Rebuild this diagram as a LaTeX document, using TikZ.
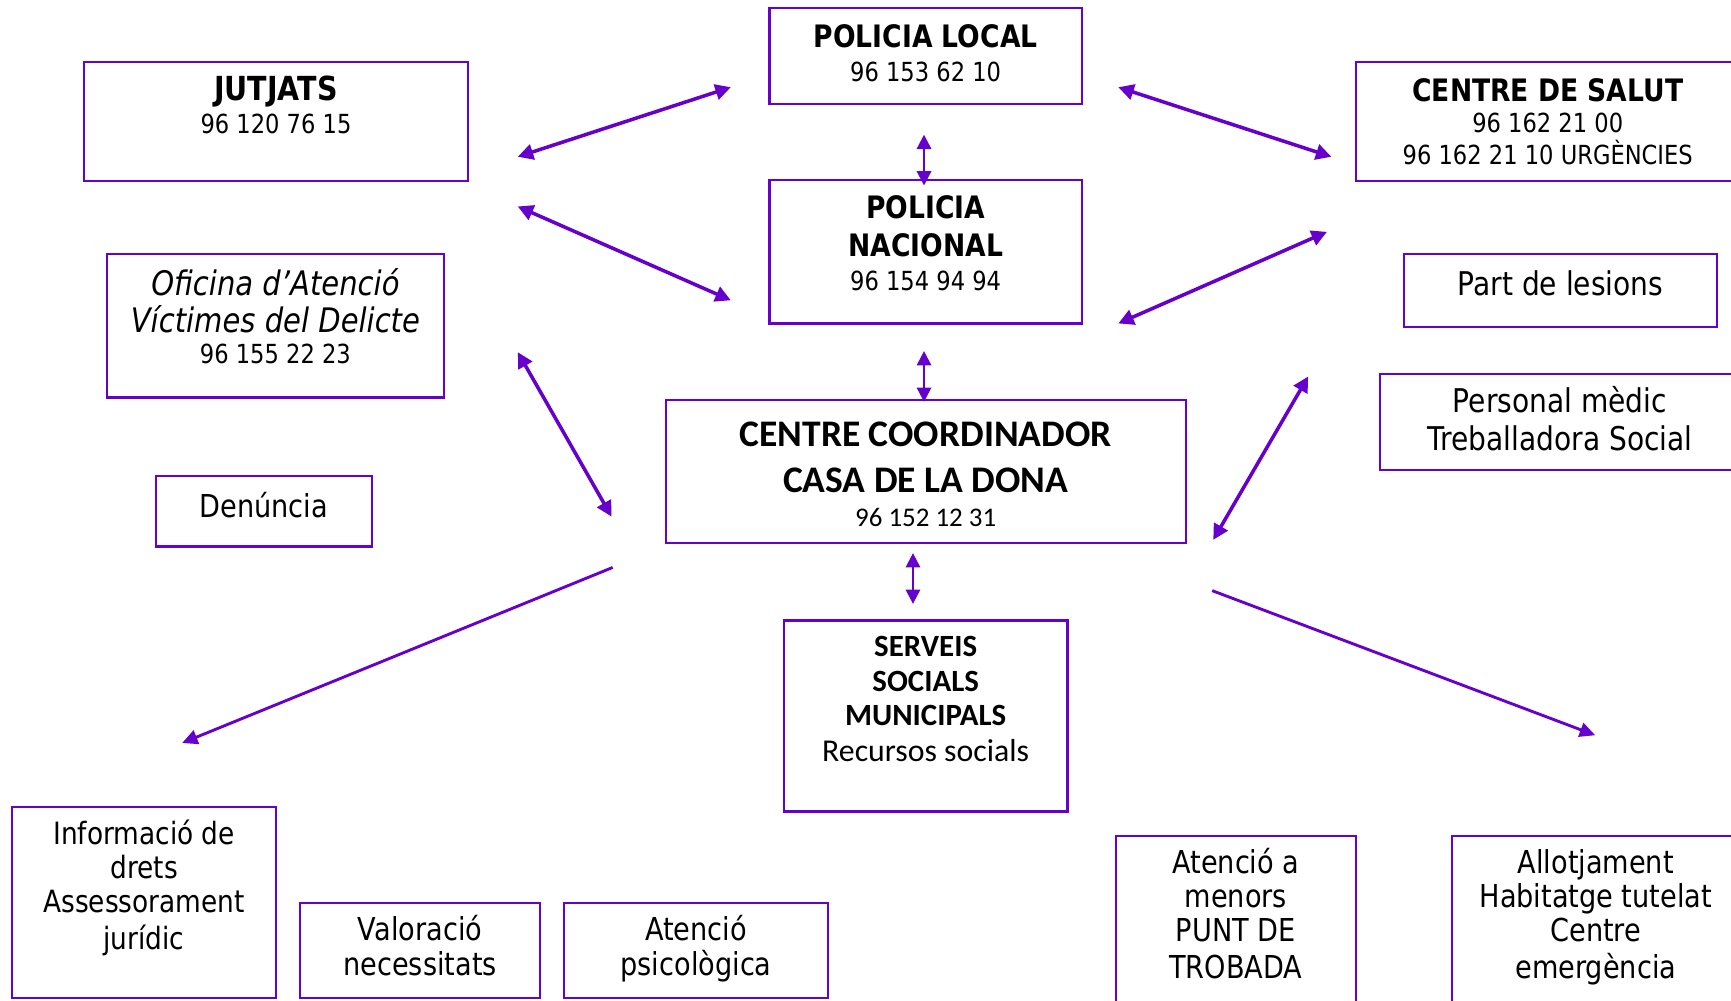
\documentclass[tikz,border=0pt]{standalone}
\usepackage{fontspec}
\setmainfont{DejaVu Sans}[FakeStretch=0.86]
\newfontfamily\carl{Carlito}
\usetikzlibrary{arrows.meta}
\definecolor{vio}{RGB}{102,0,204}
\newcommand\txl[5]{\node[txt,#1] (#2) at (#3,#4) {#5};}
\begin{document}
\begin{tikzpicture}[x=0.5pt,y=-0.5pt,
  bx/.style={draw=vio, line width=1pt, inner sep=0pt, rectangle},
  txt/.style={inner sep=0pt, anchor=base},
  ttl/.style={font=\fontsize{14}{14}\selectfont\bfseries},
  ttlj/.style={font=\fontsize{15}{15}\selectfont\bfseries},
  ph/.style={font=\fontsize{11.9}{12}\selectfont},
  lab/.style={font=\fontsize{14.3}{15}\selectfont},
  labw/.style={font=\fontsize{14.8}{15}\selectfont},
  labn/.style={font=\fontsize{13.9}{15}\selectfont},
  itl/.style={font=\fontsize{15.3}{16}\selectfont\itshape},
  cct/.style={font=\carl\fontsize{17}{18}\selectfont\bfseries},
  ccp/.style={font=\carl\fontsize{12.2}{13}\selectfont},
  sst/.style={font=\carl\fontsize{14}{15}\selectfont\bfseries},
  ssl/.style={font=\carl\fontsize{14.4}{15}\selectfont},
  dbl/.style={draw=vio, line width=1.6pt, {Triangle[length=7pt,width=7pt]}-{Triangle[length=7pt,width=7pt]}},
  vdbl/.style={draw=vio, line width=1pt, {Triangle[length=6.5pt,width=6.5pt]}-{Triangle[length=6.5pt,width=6.5pt]}},
  sgl/.style={draw=vio, line width=1.3pt, -{Triangle[length=7pt,width=6.5pt]}}
]
\useasboundingbox (0,0) rectangle (1568,906.7);
\fill[white] (0,0) rectangle (1568,906.7);
\clip (0,0) rectangle (1568,906.7);

% boxes
\node[bx, minimum width=141.5pt, minimum height=43.5pt] (pl) at (838.5,50.5) {};
\node[bx, minimum width=174pt, minimum height=54pt] (jut) at (250,110) {};
\node[bx, minimum width=174pt, minimum height=54pt] (sal) at (1402,110) {};
\node[bx, minimum width=141.5pt, minimum height=65pt] (pn) at (838.5,228) {};
\node[bx, minimum width=152.5pt, minimum height=65pt] (ofi) at (249.5,295) {};
\node[bx, minimum width=141.5pt, minimum height=33pt] (part) at (1413.5,263) {};
\node[bx, minimum width=163pt, minimum height=43.5pt] (pers) at (1413,382.5) {};
\node[bx, minimum width=98pt, minimum height=32pt] (den) at (239,463) {};
\node[bx, minimum width=235.5pt, minimum height=65pt] (cc) at (838.5,427) {};
\node[bx, minimum width=128.5pt, minimum height=86.5pt] (ser) at (838.5,648.5) {};
\node[bx, minimum width=119.5pt, minimum height=86.5pt] (inf) at (130.5,817.5) {};
\node[bx, minimum width=108.5pt, minimum height=43pt] (val) at (380.5,861) {};
\node[bx, minimum width=119.5pt, minimum height=43pt] (psi) at (630.5,861) {};
\node[bx, minimum width=108.5pt, minimum height=91.5pt] (men) at (1119.5,848.5) {};
\node[bx, minimum width=130.5pt, minimum height=91.5pt] (allo) at (1445.5,848.5) {};

% texts
\txl{ttl}{pl1}{838.5}{43}{POLICIA LOCAL}
\txl{ph}{pl2}{838.5}{74}{96 153 62 10}
\txl{ttlj}{jut1}{250}{91}{JUTJATS}
\txl{ph}{jut2}{250}{121}{96 120 76 15}
\txl{ttl}{sal1}{1402}{92}{CENTRE DE SALUT}
\txl{ph}{sal2}{1402}{120}{96 162 21 00}
\txl{ph}{sal3}{1402}{149}{96 162 21 10 URGÈNCIES}
\txl{ttl}{pn1}{838.5}{198}{POLICIA}
\txl{ttl}{pn2}{838.5}{232}{NACIONAL}
\txl{ph}{pn3}{838.5}{263}{96 154 94 94}
\txl{itl}{ofi1}{249.5}{268}{Oficina d’Atenció}
\txl{itl}{ofi2}{249.5}{301}{Víctimes del Delicte}
\txl{ph}{ofi3}{249.5}{329}{96 155 22 23}
\txl{labw}{part1}{1413.5}{268}{Part de lesions}
\txl{labw}{pers1}{1413}{374}{Personal mèdic}
\txl{labw}{pers2}{1413}{408}{Treballadora Social}
\txl{lab}{den1}{239}{469}{Denúncia}
\txl{cct}{cc1}{838.5}{404}{CENTRE COORDINADOR}
\txl{cct}{cc2}{838.5}{446}{CASA DE LA DONA}
\txl{ccp}{cc3}{838.5}{477}{96 152 12 31}
\txl{sst}{ser1}{838.5}{595}{SERVEIS}
\txl{sst}{ser2}{838.5}{626}{SOCIALS}
\txl{sst}{ser3}{838.5}{657}{MUNICIPALS}
\txl{ssl}{ser4}{838.5}{690}{Recursos socials}
\txl{labn}{inf1}{130.5}{765}{Informació de}
\txl{labn}{inf2}{130.5}{796}{drets}
\txl{labn}{inf3}{130.5}{827}{Assessorament}
\txl{labn}{inf4}{130.5}{860}{jurídic}
\txl{lab}{val1}{380.5}{852}{Valoració}
\txl{lab}{val2}{380.5}{884}{necessitats}
\txl{lab}{psi1}{630.5}{852}{Atenció}
\txl{lab}{psi2}{630.5}{884}{psicològica}
\txl{lab}{men1}{1119.5}{791}{Atenció a}
\txl{lab}{men2}{1119.5}{822}{menors}
\txl{lab}{men3}{1119.5}{853}{PUNT DE}
\txl{lab}{men4}{1119.5}{886}{TROBADA}
\txl{lab}{allo1}{1445.5}{791}{Allotjament}
\txl{lab}{allo2}{1445.5}{822}{Habitatge tutelat}
\txl{lab}{allo3}{1445.5}{853}{Centre}
\txl{lab}{allo4}{1445.5}{886}{emergència}

% arrow end points
\coordinate (a1s) at (469,142); \coordinate (a1e) at (662,79);
\coordinate (a2s) at (469,187); \coordinate (a2e) at (662,272);
\coordinate (a3s) at (1013,79); \coordinate (a3e) at (1206,142);
\coordinate (a4s) at (1013,293); \coordinate (a4e) at (1202,210);
\coordinate (v1s) at (837,122); \coordinate (v1e) at (837,168);
\coordinate (v2s) at (837,318); \coordinate (v2e) at (837,364);
\coordinate (a5s) at (469,319); \coordinate (a5e) at (554,468);
\coordinate (a6s) at (1099,489); \coordinate (a6e) at (1185,341);
\coordinate (v3s) at (827,501); \coordinate (v3e) at (827,547);
\coordinate (s1s) at (555,514); \coordinate (s1e) at (165,673);
\coordinate (s2s) at (1098,535); \coordinate (s2e) at (1445,666);

\draw[dbl] (a1s) -- (a1e);
\draw[dbl] (a2s) -- (a2e);
\draw[dbl] (a3s) -- (a3e);
\draw[dbl] (a4s) -- (a4e);
\draw[dbl] (a5s) -- (a5e);
\draw[dbl] (a6s) -- (a6e);
\draw[vdbl] (v1s) -- (v1e);
\draw[vdbl] (v2s) -- (v2e);
\draw[vdbl] (v3s) -- (v3e);
\draw[sgl] (s1s) -- (s1e);
\draw[sgl] (s2s) -- (s2e);
\end{tikzpicture}
\end{document}
